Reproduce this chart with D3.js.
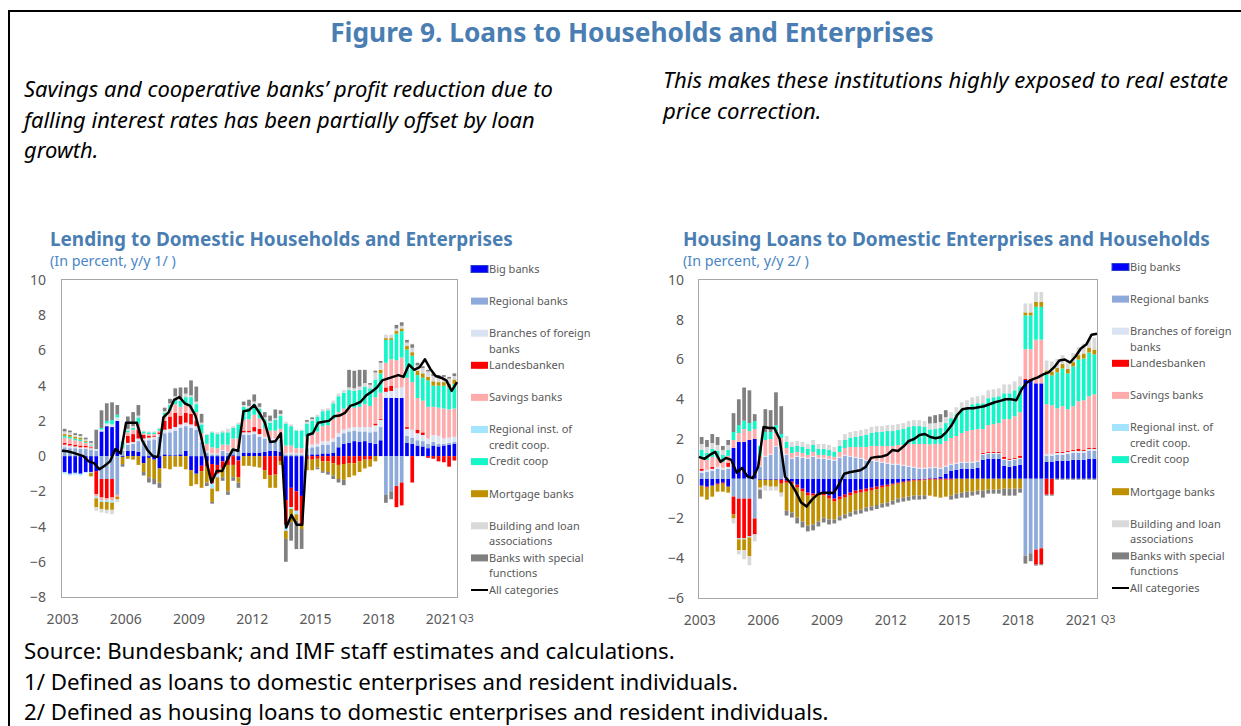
<!DOCTYPE html>
<html>
<head>
<meta charset="utf-8">
<script src="https://cdn.jsdelivr.net/npm/d3@7"></script>
<style>
  body { margin: 0; background: #fff; }
  text { font-family: "Noto Sans", "Open Sans", sans-serif; }
</style>
</head>
<body>
<svg id="fig" width="1241" height="726"></svg>
<script>
// quarters 2003Q1 .. 2021Q3
var quarters = [];
for (var yr = 2003; yr <= 2021; yr++) {
  for (var q = 1; q <= 4; q++) {
    if (yr === 2021 && q > 3) break;
    quarters.push(yr + "Q" + q);
  }
}
var yearTicks = ["2003", "2006", "2009", "2012", "2015", "2018", "2021"];

var keys = ["big", "regional", "branches", "landes", "savings", "regInst", "credit", "mortgage", "building", "special"];
var colors = ["#0000ff", "#8eaadb", "#dae3f3", "#ff0000", "#ffabab", "#a3e4ff", "#14f5c8", "#bf9000", "#d9d9d9", "#808080"];
var legendLabels = [["Big banks"], ["Regional banks"], ["Branches of foreign", "banks"], ["Landesbanken"], ["Savings banks"],
  ["Regional inst. of", "credit coop."], ["Credit coop"], ["Mortgage banks"], ["Building and loan", "associations"],
  ["Banks with special", "functions"], ["All categories"]];

// ---- Lending to domestic households and enterprises (contributions, pp) ----
var leftBig = [-0.9,-1.0,-0.95,-1.0,-0.9,-0.9, -0.85,1.4,1.7,1.65,2.0, -0.05,0.3,0.3,0.25, -0.4,-0.1,-0.2,-0.7,
  0.1,0.05,0.05,0.1,0.3, -0.8,-1.0,-0.55,-0.3,-0.45,-0.5,-0.3,-0.2,0.05,-0.25, 0.2,0.2,0.2,0.2,0.25,0.3,0.3,0.25,
  -2.5,-1.8,-2.0,-2.26, 0.05,0.1,0.1,0.15,0.15,0.2,0.5,0.7,0.75,0.85,0.8,0.85,0.75,0.7,0.9, 3.3,3.3,3.3,3.3,
  0.75,0.7,0.6,0.55,0.45,0.6,0.55,0.6,0.65,0.7];
var leftRegional = [0.5,0.45,0.45,0.4,0.4,0.35, 0.3,-1.3,-1.3,-1.3,-2.2, 0.3,0.35,0.4,0.6, 0.9,0.9,0.95,1.1,
  1.2,1.3,1.4,1.5,1.4, 1.6,1.5,0.8,0.2,0.1,0.1,0.3,0.2,0.3,0.35, 1.0,1.0,1.05,0.9,0.75,0.6,0.6,0.7,
  0.1,0.1,0.1,0.1, 0.4,0.4,0.45,0.5,0.5,0.6,0.6,0.6,0.65,0.6,0.6,0.55,0.6,0.7,0.75, -2.2,-2.0,-1.7,-1.5,
  0.4,0.35,0.3,0.3,0.25,0.2,0.15,0.1,0.1,0.1];
var leftBranches = [0.15,0.15,0.1,0.1,0.1,0.1, 0.1,0.1,0.15,0.15,0.2, 0.1,0.1,0.1,0.15, 0.1,0.15,0.15,0.15,
  0.2,0.2,0.2,0.2,0.2, 0.2,0.2,0.1,0.1,0.05,0.05,0.05,0.05,0.1,0.1, 0.15,0.15,0.15,0.15,0.1,0.1,0.1,0.1,
  0.05,0.1,0.05,0.05, 0.15,0.15,0.15,0.2,0.2,0.2,0.2,0.2,0.2,0.2,0.25,0.25,0.3,0.35,0.4, 0.35,0.4,0.55,0.6,
  0.4,0.45,0.4,0.35,0.3,0.4,0.45,0.3,0.3,0.3];
var leftLandes = [0.1,0.1,0.1,0.1,0.1,0.05, -1.3,-1.05,-1.1,-1.05,0, 0,0.4,0.45,0.5, 0.2,0.1,0.05,0.1,
  0.5,0.7,0.8,0.5,0.55, 0.6,0.3,-0.3,-0.3,-1.1,-0.5,-0.4,-0.3,-0.5,-0.95, 0.1,0.1,0.25,0.3,-0.8,-1.1,-1.05,-0.3,
  -1.4,-1.1,-1.1,-1.6, -0.2,-0.2,-0.15,-0.3,-0.3,-0.4,-0.5,-0.45,-0.4,-0.4,-0.3,-0.2,-0.2,0.1,0.05, 0.25,0.3,-1.2,-1.3,
  0.1,-1.5,0.2,0.15,-0.1,-0.15,-0.3,-0.35,-0.6,-0.25];
var leftSavings = [0.3,0.3,0.25,0.25,0.15,0.1, -0.15,-0.15,-0.1,-0.15,-0.1, 0.05,0.2,0.25,0.35, 0.1,0.1,0.1,0.1,
  0.3,0.35,0.5,0.5,0.5, 0.5,0.5,0.4,0.4,0.35,0.3,0.3,0.4,0.55,0.55, 0.6,0.65,0.7,0.6,0.5,0.45,0.45,0.5,
  0.45,0.4,0.3,0.3, 0.5,0.55,0.7,0.85,0.9,1.1,1.2,1.2,1.2,1.1,1.15,1.3,1.2,1.5,1.5, 1.4,1.5,1.6,1.7,
  2.8,2.7,1.8,1.8,1.8,1.6,1.6,1.7,1.6,1.6];
var leftRegInst = [-0.1,-0.1,-0.1,-0.1,-0.05,-0.05, -0.1,-0.1,-0.1,-0.15,0, 0,0,0,0, 0,0,0,0,
  0,0,0,0,0, 0,0,0,0,-0.3,-0.2,0,0,0,0, 0,0,0,0,0,0,0,0,
  -0.35,-0.1,-0.2,0, 0,0,0,0,0,0,0,0,0,0,0,0,0,0,0, 0,0,0,0,
  0,0,0,0,0,0,0,0,0,0];
var leftCredit = [0.1,0.1,0.1,0.1,0.05,0.05, 0,0.1,0.15,0.25,0.15, 0.35,0.1,0.1,0.35, 0.1,0.1,0.1,0.1,
  0.15,0.3,0.3,0.35,0.4, 0.45,0.45,0.5,0.5,0.85,0.8,0.7,0.7,0.6,0.8, 0.75,0.65,0.6,0.55,0.5,0.45,0.6,0.75,
  1.25,1.1,1.0,1.0, 0.75,0.8,0.85,0.85,0.85,0.9,0.9,0.9,0.95,0.95,0.95,1.0,1.0,1.0,1.1, 1.3,1.1,1.5,1.5,
  1.6,1.5,1.3,1.3,1.5,1.2,1.25,1.3,1.25,1.4];
var leftMortgage = [0.1,0.1,0.1,0.1,0.05,-0.2, -0.5,-0.4,-0.45,-0.4,-0.15, -0.4,-0.15,-0.2,-0.5, -0.5,-1.1,-1.1,-0.8,
  -0.7,-0.75,-0.6,-0.6,-0.75, -0.9,-0.6,-0.95,-0.9,-0.75,-0.8,-0.5,-1.5,-0.7,-0.3, -0.55,-0.55,-0.6,-0.65,-0.5,-0.7,-0.75,-0.2,
  -0.45,-0.75,-0.38,-0.28, -0.6,-0.6,-0.5,-0.55,-0.6,-0.7,-0.8,-0.9,-0.8,-0.7,-0.6,-0.5,-0.4,-0.3,0.2, 0.1,0.1,0.15,0.15,
  0.2,0.2,0.25,0.25,0.2,0.25,0.2,0.2,0.2,0.25];
var leftBuilding = [0.15,0.15,0.1,0.1,0.1,0.1, -0.2,-0.2,-0.2,-0.25,-0.15, 0.05,0.1,0.1,0.1, 0.05,0.05,0.05,0.05,
  0.1,0.1,0.15,0.15,0.2, 0.1,0.15,0.1,0.05,0.05,0.1,0.1,0.2,0.1,0.1, 0.1,0.1,0.15,0.1,0.1,0.1,0.1,0.1,
  0.1,0.1,0.05,0.05, 0.1,0.1,0.1,0.12,0.12,0.15,0.15,0.15,0.15,0.15,0.2,0.2,0.2,0.4,0.4, 0.2,0.2,0.15,0.15,
  0.2,0.25,0.3,0.3,0.3,0.3,0.25,0.3,0.3,0.2];
var leftSpecial = [0.15,0.1,0.1,0.1,0.1,0.1, 1.1,1.0,1.0,1.0,0.55, -0.15,0.7,0.8,0.6, -0.2,-0.3,-0.3,-0.3,
  0.2,0.25,0.45,0.6,0.35, 0.85,0.85,0.5,-0.2,-0.1,0,-0.2,-0.2,-0.2,-0.3, 0.2,0.35,0.4,0.2,0.3,0.3,0.5,0.2,
  -1.3,-1.05,-1.6,-1.13, 0.1,0.1,-0.1,-0.1,-0.15,-0.2,-0.2,-0.3,1.0,1.0,0.95,0.75,0.1,0.1,0.1, -0.45,-0.45,0.2,0.2,
  0.15,0.2,0.15,0.1,0.1,0.15,0.15,0.1,0.1,0.15];
var leftAll = [0.3,0.28,0.2,0.1,0.0,-0.3, -0.4,-0.75,-0.55,-0.3,0.4, 0.15,1.9,1.9,1.9, 0.9,0.35,0.0,-0.05,
  2.2,2.5,3.2,3.35,3.0, 2.85,2.3,1.2,-0.2,-1.5,-0.85,-0.85,-0.2,0.38,0.3, 2.55,2.6,2.9,2.45,1.9,0.8,0.85,1.3,
  -4.05,-3.35,-3.9,-3.9, 1.2,1.3,1.9,1.95,2.0,2.26,2.3,2.45,2.85,2.95,3.1,3.45,3.65,3.9,4.3, 4.4,4.5,4.6,4.5,
  5.2,4.9,5.05,5.5,4.95,4.55,4.45,4.3,3.7,4.2];

// ---- Housing loans to domestic enterprises and households ----
var rightBig = [-0.35,-0.4,-0.35,-0.25,-0.2,-0.4, 1.55,1.85,1.85,1.95,2.0, -0.05,-0.05,-0.05,-0.05, -0.05,-0.1,-0.15,-0.3,
  -0.5,-0.7,-0.75,-0.75,-0.75, -0.85,-1.0,-0.9,-0.8,-0.7,-0.6,-0.55,-0.5,-0.45,-0.4, -0.35,-0.3,-0.25,-0.2,-0.15,-0.1,-0.05,-0.05,
  -0.03,0.03,0.05,0.1, 0.25,0.4,0.45,0.5,0.5,0.5,0.55,0.95,1.0,1.0,1.0,0.65,0.6,0.65,0.7, 4.97,4.97,4.8,4.8,
  0.85,0.85,0.9,0.9,0.9,0.95,0.95,0.95,1.0,1.0];
var rightRegional = [0.3,0.35,0.4,0.5,0.45,0.5, -0.9,-1.0,-1.0,-1.0,-2.0, 0.6,1.1,1.2,1.6, 1.4,1.2,1.0,1.1,
  1.05,1.0,1.1,1.0,1.0, 0.95,0.9,1.05,1.15,1.1,1.05,1.0,0.9,0.9,0.85, 0.8,0.75,0.7,0.7,0.65,0.6,0.55,0.5,
  0.5,0.5,0.5,0.4, 0.35,0.3,0.3,0.3,0.3,0.3,0.3,0.25,0.25,0.25,0.25,0.3,0.3,0.3,0.3, -3.87,-3.75,-3.57,-3.5,
  0.3,0.3,0.3,0.3,0.35,0.35,0.35,0.35,0.4,0.4];
var rightBranches = [0.1,0.1,0.1,0.1,0.1,0.1, 0,0,0,0,0, 0.05,0.05,0.05,0.05, 0.05,0.05,0.05,0.05,
  0.05,0.05,0.05,0.05,0.05, 0.05,0.05,0.05,0.05,0.05,0.05,0.05,0.05,0.05,0.05, 0.05,0.05,0.05,0.05,0.05,0.05,0.05,0.05,
  0.05,0.05,0.05,0.05, 0.05,0.05,0.05,0.05,0.05,0.05,0.05,0.05,0.05,0.05,0.05,0.05,0.05,0.05,0.05, 0,0,0,0,
  0.1,0.1,0.1,0.1,0.1,0.1,0.1,0.1,0.1,0.1];
var rightLandes = [0.1,-0.05,0.1,-0.05,-0.05,0.2, -0.9,-2.0,-2.0,-1.9,-0.8, 0,0,0,0, -0.2,-0.1,-0.1,-0.15,
  -0.15,-0.15,-0.1,-0.1,-0.1, -0.15,-0.15,-0.15,-0.15,-0.15,-0.15,-0.15,-0.15,-0.15,-0.12, -0.1,-0.1,-0.05,-0.05,-0.05,-0.05,-0.05,-0.05,
  -0.05,-0.05,-0.05,-0.05, -0.05,-0.05,0,0,0,0,0,0.05,0.05,0.05,0.05,0.1,0.05,0.05,0.1, 0.05,0.05,-0.75,-0.8,
  -0.8,-0.8,0.05,0.05,0.05,0.05,0.1,0.05,0.05,0.05];
var rightSavings = [0.55,0.5,0.5,0.45,0.3,0.35, 0.4,0.45,0.65,0.45,0.5, 0.5,0.8,0.75,0.65, 0.6,0.3,0.25,0.2,
  0.2,0.15,0.2,0.15,0.15, 0.15,0.15,0.25,0.35,0.45,0.5,0.55,0.65,0.7,0.75, 0.8,0.85,0.9,0.95,1.0,1.1,1.15,1.2,
  1.2,1.15,1.15,1.2, 1.25,1.3,1.35,1.45,1.55,1.6,1.6,1.2,1.35,1.4,1.45,1.9,2.0,2.1,2.2, 1.5,1.5,2.2,2.2,
  2.5,2.45,2.2,2.3,2.1,2.2,2.4,2.5,2.6,2.7];
var rightRegInst = [0,0,0,0,0,0, 0,-0.05,-0.05,-0.05,0, 0,0,0,0, 0,0,0,0,
  0,0,0,0,0, 0,0,0,0,0,0,0,0,0,0, 0,0,0,0,0,0,0,0,
  0,0,0,0, 0,0,0,0,0,0,0,0,0,0,0,0,0,0,0, 0,0,0,0,
  0,0,0,0,0,0,0,0,0,0];
var rightCredit = [0.4,0.35,0.4,0.35,0.35,0.3, 0.4,0.4,0.42,0.4,0.4, 0.5,0.4,0.35,0.4, 0.2,0.3,0.3,0.3,
  0.3,0.3,0.35,0.3,0.3, 0.3,0.25,0.3,0.4,0.45,0.5,0.55,0.6,0.65,0.7, 0.7,0.75,0.75,0.75,0.8,0.85,0.9,0.9,
  0.85,0.75,0.75,0.8, 0.9,1.0,1.1,1.2,1.2,1.3,1.3,1.3,1.35,1.35,1.35,1.3,1.3,1.3,1.3, 1.7,1.7,1.65,1.65,
  1.5,1.5,1.8,1.9,1.8,2.0,2.1,2.1,2.2,2.0];
var rightMortgage = [-0.55,-0.6,-0.55,-0.35,-0.4,-0.3, -0.2,-0.55,-0.55,-0.95,0, -0.4,-0.3,-0.35,-0.35, -0.45,-1.4,-1.45,-1.5,
  -1.5,-1.5,-1.45,-1.3,-1.1, -1.05,-0.9,-0.85,-0.85,-0.85,-0.85,-0.85,-0.8,-0.8,-0.8, -0.8,-0.8,-0.8,-0.75,-0.75,-0.75,-0.75,-0.75,
  -0.75,-0.8,-0.85,-0.9, -0.85,-0.8,-0.75,-0.7,-0.65,-0.65,-0.6,-0.6,-0.55,-0.55,-0.55,-0.5,-0.5,-0.5,-0.5, 0.15,0.15,0.25,0.25,
  0.2,0.2,0.22,0.22,0.22,0.22,0.22,0.25,0.25,0.25];
var rightBuilding = [0.3,0.3,0.3,0.3,0.25,0.25, -0.25,-0.2,-0.45,-0.45,-0.35, -0.1,-0.25,-0.2,-0.2, -0.2,0.3,0.25,0.25,
  0.25,0.25,0.25,0.25,0.25, 0.25,0.25,0.3,0.3,0.3,0.3,0.3,0.3,0.3,0.3, 0.3,0.3,0.3,0.3,0.3,0.3,0.3,0.3,
  0.3,0.3,0.3,0.3, 0.3,0.3,0.35,0.35,0.35,0.35,0.35,0.4,0.4,0.4,0.4,0.45,0.45,0.45,0.5, 0.45,0.45,0.5,0.5,
  0.5,0.5,0.45,0.45,0.45,0.45,0.4,0.5,0.4,0.6];
var rightSpecial = [0.35,0.35,0.45,0.4,0.2,0.25, 0.95,1.3,1.67,1.65,0.35, -0.45,1.15,1.1,1.65, 1.4,-0.25,-0.25,-0.3,
  -0.3,-0.3,-0.3,-0.25,-0.25, -0.25,-0.2,-0.2,-0.2,-0.2,-0.2,-0.2,-0.2,-0.2,-0.2, -0.2,-0.2,-0.2,-0.2,-0.2,-0.2,-0.2,-0.2,
  -0.2,0.35,0.4,0.4, 0.35,-0.2,-0.25,-0.25,-0.3,-0.2,-0.2,-0.35,-0.2,-0.2,-0.2,-0.35,-0.35,-0.35,-0.2, -0.4,-0.4,-0.05,-0.05,
  -0.05,-0.05,-0.05,-0.05,-0.05,-0.05,-0.05,-0.05,-0.05,-0.05];
var rightAll = [1.1,1.0,1.2,1.35,0.85,1.05, 0.95,0.3,0.55,0.12,0.03, 0.6,2.6,2.55,2.55, 2.0,0.1,-0.2,-0.65,
  -1.2,-1.4,-1.05,-0.8,-0.7, -0.7,-0.72,-0.3,0.25,0.33,0.38,0.43,0.6,1.05,1.1, 1.12,1.2,1.45,1.4,1.62,1.9,2.0,2.2,
  2.25,2.1,2.04,2.1, 2.35,2.7,3.2,3.5,3.55,3.55,3.6,3.65,3.75,3.85,3.92,4.0,4.0,3.95,4.5, 4.85,5.0,5.1,5.25,
  5.35,5.6,5.95,6.0,5.85,6.15,6.55,6.75,7.25,7.3];

var svg = d3.select("#fig");
var blue = "#4a7eb3";
var grey = "#595959";

// make a text fill a measured width by tuning its font size
function fitWidth(sel, w) {
  var fs = parseFloat(sel.attr("font-size"));
  var len = sel.node().getComputedTextLength();
  sel.attr("font-size", (fs * w / len).toFixed(2));
}

// frame
svg.append("path").attr("d", "M9,726V11H1241").attr("fill", "none").attr("stroke", "#000").attr("stroke-width", 2);

// heading and notes
fitWidth(svg.append("text").attr("x", 632).attr("y", 42).attr("text-anchor", "middle")
  .attr("font-size", 24).attr("font-weight", "bold").attr("fill", blue)
  .text("Figure 9. Loans to Households and Enterprises"), 604);

var leftNote = ["Savings and cooperative banks\u2019 profit reduction due to",
  "falling interest rates has been partially offset by loan", "growth."];
var rightNote = ["This makes these institutions highly exposed to real estate", "price correction."];
var ln = svg.append("text").attr("font-size", 20).attr("font-style", "italic").attr("fill", "#000");
leftNote.forEach(function(t, i) { ln.append("tspan").attr("x", 24).attr("y", 97 + i * 30.5).text(t); });
var rn = svg.append("text").attr("font-size", 20).attr("font-style", "italic").attr("fill", "#000");
rightNote.forEach(function(t, i) { rn.append("tspan").attr("x", 663).attr("y", 88 + i * 30.5).text(t); });
var l0 = ln.select("tspan").node().getComputedTextLength();
ln.attr("font-size", (20 * 529 / l0).toFixed(2));
var r0 = rn.select("tspan").node().getComputedTextLength();
rn.attr("font-size", (20 * 565 / r0).toFixed(2));

var footer = ["Source: Bundesbank; and IMF staff estimates and calculations.",
  "1/ Defined as loans to domestic enterprises and resident individuals.",
  "2/ Defined as housing loans to domestic enterprises and resident individuals."];
var ft = svg.append("text").attr("font-size", 20).attr("fill", "#000");
footer.forEach(function(t, i) { ft.append("tspan").attr("x", 24).attr("y", 659 + i * 30.5).text(t); });
var f0 = ft.select("tspan").node().getComputedTextLength();
ft.attr("font-size", (20 * 651 / f0).toFixed(2));

function drawPanel(p) {
  var g = svg.append("g");
  var x = d3.scaleBand().domain(quarters).range([p.x0, p.x1]).paddingInner(0.3).paddingOuter(0.15);
  var xl = d3.scalePoint().domain(quarters).range([p.x0, p.x1]);
  var y = d3.scaleLinear().domain([p.ymin, p.ymax]).range([p.y1, p.y0]);

  var rows = quarters.map(function(q, i) {
    var r = { q: q };
    keys.forEach(function(k, j) { r[k] = p.series[j][i]; });
    return r;
  });
  var stacked = d3.stack().keys(keys).offset(d3.stackOffsetDiverging)(rows);

  // plot area border
  g.append("rect").attr("x", p.x0 - 0.5).attr("y", p.y0 - 0.5)
    .attr("width", p.x1 - p.x0 + 1).attr("height", p.y1 - p.y0 + 1)
    .attr("fill", "none").attr("stroke", "#a6a6a6");

  g.selectAll("g.layer").data(stacked).enter().append("g")
    .attr("class", "layer")
    .attr("fill", function(d, i) { return colors[i]; })
    .selectAll("rect").data(function(d) { return d; }).enter().append("rect")
    .attr("x", function(d) { return x(d.data.q); })
    .attr("width", x.bandwidth())
    .attr("y", function(d) { return y(Math.max(d[0], d[1])); })
    .attr("height", function(d) { return Math.abs(y(d[0]) - y(d[1])); });

  var line = d3.line()
    .x(function(d, i) { return xl(quarters[i]); })
    .y(function(d) { return y(d); });
  g.append("path").datum(p.total).attr("d", line)
    .attr("fill", "none").attr("stroke", "#000").attr("stroke-width", 2.5).attr("stroke-linejoin", "round");

  // y axis
  var ya = g.append("g").attr("transform", "translate(" + p.tickX + ",0)")
    .call(d3.axisLeft(y).tickValues(d3.range(p.ymin, p.ymax + 1, 2)).tickSize(0).tickPadding(0));
  ya.select(".domain").remove();
  ya.selectAll("text").attr("font-size", 14).attr("fill", grey).attr("font-family", "Noto Sans");

  // x axis: year labels under Q1 of the year
  var xa = g.append("g").attr("transform", "translate(-2," + (p.y1 + 17) + ")")
    .call(d3.axisBottom(x).tickValues(yearTicks.map(function(t) { return t + "Q1"; }))
      .tickFormat(function(d) { return d.slice(0, 4); }).tickSize(0).tickPadding(0));
  xa.select(".domain").remove();
  xa.selectAll("text").attr("font-size", 14).attr("fill", grey).attr("font-family", "Noto Sans");
  var last = xa.selectAll(".tick").filter(function(d) { return d === "2021Q1"; });
  var lw = last.select("text").node().getComputedTextLength();
  last.append("text").attr("x", lw / 2 + p.q3Gap).attr("y", 0).attr("dy", "0.71em")
    .attr("text-anchor", "start").attr("font-size", 11).attr("fill", grey).attr("font-family", "Noto Sans").text("Q3");

  // titles
  g.append("text").attr("x", p.titleX).attr("y", 246).attr("font-size", 17).attr("font-weight", "bold")
    .attr("fill", blue).text(p.title).call(fitWidth, p.titleW);
  g.append("text").attr("x", p.titleX).attr("y", 266).attr("font-size", 13)
    .attr("fill", "#4a86c5").text(p.subtitle).call(fitWidth, p.subW);

  // legend
  var lg = g.append("g").attr("transform", "translate(" + p.legX + "," + p.legY + ")");
  legendLabels.forEach(function(lines, i) {
    var it = lg.append("g").attr("transform", "translate(0," + (i * 32.1) + ")");
    if (i < keys.length) {
      it.append("rect").attr("x", 0).attr("y", -3.5).attr("width", 17).attr("height", 7)
        .attr("fill", colors[i]).attr("stroke", i === 0 ? "#2a46c8" : "none").attr("stroke-width", 1);
    } else {
      it.append("line").attr("x1", 0).attr("x2", 17).attr("y1", 0).attr("y2", 0)
        .attr("stroke", "#000").attr("stroke-width", 2);
    }
    var t = it.append("text").attr("font-size", 11).attr("fill", grey);
    lines.forEach(function(s, k) {
      t.append("tspan").attr("x", 18).attr("y", k * 15.5).attr("dy", "0.35em").text(s);
    });
  });
}

drawPanel({
  x0: 62, x1: 457, y0: 280, y1: 597, ymin: -8, ymax: 10, tickX: 46, q3Gap: 1,
  series: [leftBig, leftRegional, leftBranches, leftLandes, leftSavings, leftRegInst, leftCredit, leftMortgage, leftBuilding, leftSpecial],
  total: leftAll,
  title: "Lending to Domestic Households and Enterprises", titleX: 50, titleW: 463,
  subtitle: "(In percent, y/y 1/ )", subW: 126,
  legX: 471, legY: 269
});
drawPanel({
  x0: 699, x1: 1097, y0: 280, y1: 598, ymin: -6, ymax: 10, tickX: 684, q3Gap: 3,
  series: [rightBig, rightRegional, rightBranches, rightLandes, rightSavings, rightRegInst, rightCredit, rightMortgage, rightBuilding, rightSpecial],
  total: rightAll,
  title: "Housing Loans to Domestic Enterprises and Households", titleX: 683, titleW: 527,
  subtitle: "(In percent, y/y 2/ )", subW: 126,
  legX: 1112, legY: 267
});
</script>
</body>
</html>
